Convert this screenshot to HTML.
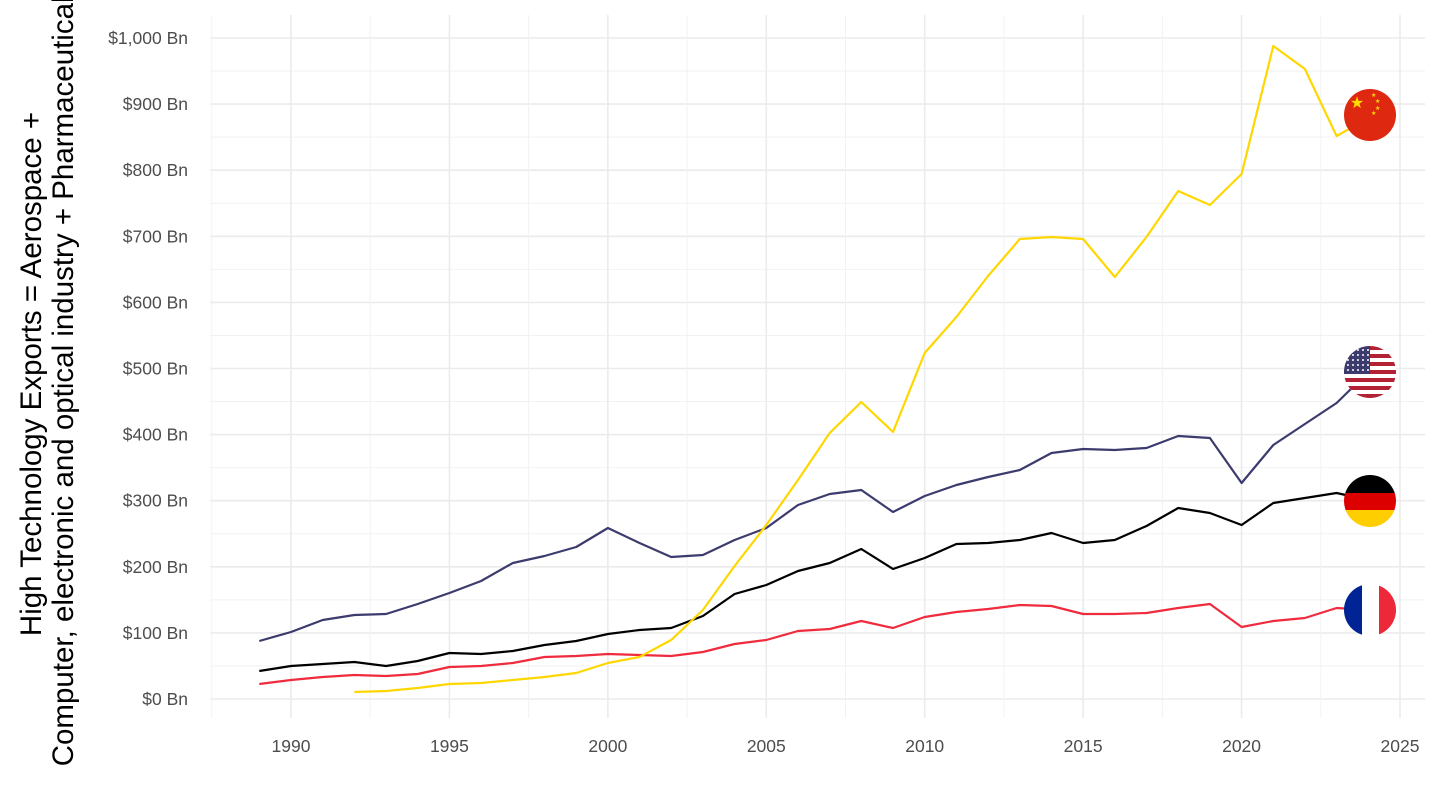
<!DOCTYPE html>
<html><head><meta charset="utf-8"><style>
html,body{margin:0;padding:0;background:#fff}
svg{display:block;font-family:"Liberation Sans",sans-serif}
</style></head><body>
<svg id="s" width="1440" height="810" viewBox="0 0 1440 810" xmlns="http://www.w3.org/2000/svg">
<defs>
<clipPath id="c1"><circle cx="1370" cy="115" r="26"/></clipPath>
<clipPath id="c2"><circle cx="1370" cy="372" r="26"/></clipPath>
<clipPath id="c3"><circle cx="1370" cy="501" r="26"/></clipPath>
<clipPath id="c4"><circle cx="1370" cy="610" r="26"/></clipPath>
</defs>
<g id="grid"></g>
<g id="lines"></g>
<g id="flags">
<g clip-path="url(#c1)"><rect x="1344" y="89" width="52" height="52" fill="#DE2910"/>
<text x="1357" y="108" font-size="16" fill="#FFDE00" text-anchor="middle">★</text>
<text x="1371" y="97" font-size="6" fill="#FFDE00">★</text><text x="1375" y="103" font-size="6" fill="#FFDE00">★</text>
<text x="1375" y="110" font-size="6" fill="#FFDE00">★</text><text x="1371" y="115" font-size="6" fill="#FFDE00">★</text></g>
<g clip-path="url(#c2)" id="us"><rect x="1344" y="346" width="52" height="52" fill="#fff"/></g>
<g clip-path="url(#c3)"><rect x="1344" y="475" width="52" height="18" fill="#000"/><rect x="1344" y="493" width="52" height="17" fill="#DD0000"/><rect x="1344" y="510" width="52" height="18" fill="#FFCE00"/></g>
<g clip-path="url(#c4)"><rect x="1344" y="584" width="18" height="52" fill="#002395"/><rect x="1362" y="584" width="17" height="52" fill="#fff"/><rect x="1379" y="584" width="18" height="52" fill="#ED2939"/></g>
</g>
<g font-size="29.5" fill="#000" text-anchor="middle">
<text transform="translate(41,374) rotate(-90)">High Technology Exports = Aerospace +</text>
<text transform="translate(73,374) rotate(-90)">Computer, electronic and optical industry + Pharmaceuticals</text>
</g>
</svg>
<script>
const NS="http://www.w3.org/2000/svg";
const X=y=>291+(y-1990)*1109/35, Y=v=>699-v*0.661;
const g=document.getElementById('grid');
function el(p,t,a,txt){const e=document.createElementNS(NS,t);for(const k in a)e.setAttribute(k,a[k]);if(txt)e.textContent=txt;p.appendChild(e);return e;}
for(let v=-50;v<=1050;v+=50){const y=Y(v);if(y<15||y>718)continue;el(g,'line',{x1:210,x2:1425,y1:y,y2:y,stroke:v%100?'#f2f2f2':'#ebebeb','stroke-width':v%100?1:1.6});}
for(let yr=1987.5;yr<=2026;yr+=2.5){const x=X(yr);if(x<210||x>1425)continue;el(g,'line',{x1:x,x2:x,y1:15,y2:718,stroke:(yr%5)?'#f2f2f2':'#ebebeb','stroke-width':(yr%5)?1:1.6});}
for(let v=0;v<=1000;v+=100){el(g,'text',{x:188,y:Y(v)+6,'text-anchor':'end','font-size':17.5,fill:'#4d4d4d'},'$'+(v>=1000?'1,000':v)+' Bn');}
for(let yr=1990;yr<=2025;yr+=5){el(g,'text',{x:X(yr),y:752,'text-anchor':'middle','font-size':17.5,fill:'#4d4d4d'},yr);}
const L=document.getElementById('lines');
function line(start,ys,col){let p=ys.map((y,i)=>X(start+i).toFixed(1)+','+y).join(' ');el(L,'polyline',{points:p,fill:'none',stroke:col,'stroke-width':2.2,'stroke-linejoin':'round'});}
line(1989,[684,680,677,675,676,674,667,666,663,657,656,654,655,656,652,644,640,631,629,621,628,617,612,609,605,606,614,614,613,608,604,627,621,618,608,610],'#EF2B3D');
line(1989,[671,666,664,662,666,661,653,654,651,645,641,634,630,628,616,594,585,571,563,549,569,558,544,543,540,533,543,540,526,508,513,525,503,498,493,500],'#000');
line(1989,[641,632,620,615,614,604,593,581,563,556,547,528,543,557,555,540,528,505,494,490,512,496,485,477,470,453,449,450,448,436,438,483,445,424,403,372],'#3C3B6E');
line(1992,[692,691,688,684,683,680,677,673,663,657,640,610,566,525,480,433,402,432,353,317,276,239,237,239,277,237,191,205,174,46,69,136,118],'#FFD700');
const us=document.getElementById('us');
for(let i=0;i<13;i++){if(i%2==0)el(us,'rect',{x:1344,y:346+i*4,width:52,height:4,fill:'#B22234'});}
el(us,'rect',{x:1344,y:346,width:26,height:28,fill:'#3C3B6E'});
for(let r=0;r<5;r++)for(let c=0;c<5;c++)el(us,'circle',{cx:1348+c*5,cy:350+r*5,r:1,fill:'#fff'});
document.getElementById('s').appendChild(document.getElementById('flags'));
</script>
</body></html>
